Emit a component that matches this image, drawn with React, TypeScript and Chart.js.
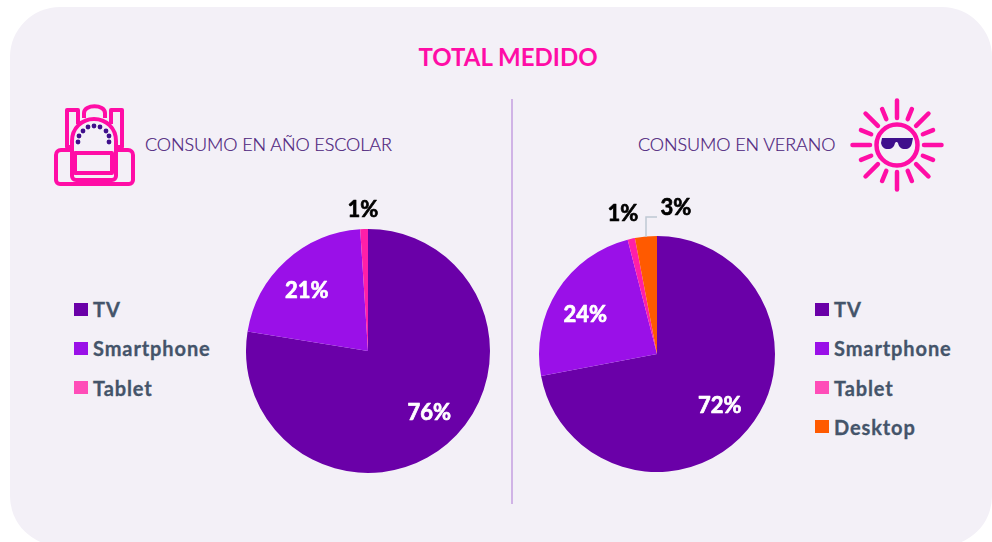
import React, { useEffect, useRef } from "react";
import { Chart, registerables } from "chart.js";

Chart.register(...registerables);

const title = "TOTAL MEDIDO";
const schoolHeading = "CONSUMO EN AÑO ESCOLAR";
const summerHeading = "CONSUMO EN VERANO";
const schoolCategories = ["TV", "Smartphone", "Tablet"];
const schoolValues = [76, 21, 1];
const summerCategories = ["TV", "Smartphone", "Tablet", "Desktop"];
const summerValues = [72, 24, 1, 3];
const sliceColors = ["#6A00A8", "#9A10E8", "#FF1FA8", "#FF5A00"];
const legendColors = ["#6A00A8", "#9A10E8", "#FF4DB8", "#FF5A00"];

type LabelPlace = { r?: number; dx?: number; dy?: number; color: string };

const labelPlugin = {
  id: "sliceLabels",
  afterDatasetsDraw(chart: any, _a: any, opts: any) {
    const { ctx } = chart;
    const arcs = chart.getDatasetMeta(0).data;
    const values = chart.data.datasets[0].data;
    const places: LabelPlace[] = opts.places;
    ctx.save();
    if (opts.leader) {
      const a = arcs[opts.leader.index];
      const mx = a.x + opts.leader.x0;
      ctx.strokeStyle = "#BFC7D4";
      ctx.lineWidth = 1.5;
      ctx.beginPath();
      ctx.moveTo(mx, a.y + opts.leader.y0);
      ctx.lineTo(mx, a.y + opts.leader.y1);
      ctx.lineTo(a.x + opts.leader.x1, a.y + opts.leader.y1);
      ctx.stroke();
    }
    ctx.font = "bold 22px Lato";
    ctx.textAlign = "center";
    ctx.textBaseline = "middle";
    ctx.lineJoin = "round";
    ctx.lineWidth = 0.7;
    arcs.forEach((arc: any, i: number) => {
      const p = places[i];
      const mid = (arc.startAngle + arc.endAngle) / 2;
      const rr = (p.r ?? 0) * arc.outerRadius;
      const x = arc.x + Math.cos(mid) * rr + (p.dx ?? 0);
      const y = arc.y + Math.sin(mid) * rr + (p.dy ?? 0);
      const text = `${values[i]}%`;
      ctx.fillStyle = p.color;
      ctx.strokeStyle = p.color;
      ctx.fillText(text, x, y);
      ctx.strokeText(text, x, y);
    });
    ctx.restore();
  },
};

function Pie(props: {
  labels: string[];
  values: number[];
  box: { left: number; top: number; width: number; height: number };
  padding: { left: number; right: number; top: number; bottom: number };
  places: LabelPlace[];
  leader?: any;
}) {
  const ref = useRef<HTMLCanvasElement>(null);
  useEffect(() => {
    const chart = new Chart(ref.current!, {
      type: "pie",
      data: {
        labels: props.labels,
        datasets: [
          {
            data: props.values,
            backgroundColor: sliceColors.slice(0, props.values.length),
            borderWidth: 0,
          },
        ],
      },
      options: {
        responsive: false,
        animation: false,
        layout: { padding: props.padding },
        plugins: {
          legend: { display: false },
          tooltip: { enabled: false },
          sliceLabels: { places: props.places, leader: props.leader },
        } as any,
      },
      plugins: [labelPlugin],
    });
    return () => chart.destroy();
  }, []);
  return (
    <canvas
      ref={ref}
      width={props.box.width}
      height={props.box.height}
      style={{ position: "absolute", left: props.box.left, top: props.box.top }}
    />
  );
}

function Legend(props: { items: string[]; left: number; top: number }) {
  return (
    <div style={{ position: "absolute", left: props.left, top: props.top }}>
      {props.items.map((t, i) => (
        <div
          key={t}
          style={{
            position: "absolute",
            top: i * 39.3,
            left: 0,
            height: 24,
            whiteSpace: "nowrap",
            display: "flex",
            alignItems: "center",
            font: "bold 20px Lato",
            letterSpacing: 0.9,
            color: "#44546A",
            WebkitTextStroke: "0.3px #44546A",
          }}
        >
          <span
            style={{
              display: "inline-block",
              width: 14,
              height: 13,
              background: legendColors[i],
              marginRight: 5,
            }}
          />
          {t}
        </div>
      ))}
    </div>
  );
}

const PINK = "#FF0DA6";
const INK = "#3F0F8C";

function Backpack() {
  const dots: number[][] = [
    [78, 142], [79, 136], [83, 131], [88, 127], [94, 126], [100, 127], [106, 131], [109, 136], [109, 142],
  ];
  return (
    <svg width={100} height={100} viewBox="50 100 100 100" style={{ position: "absolute", left: 50, top: 100 }}>
      <g fill="none" stroke={PINK} strokeWidth={4} strokeLinejoin="round">
        <path d="M72 176V141c0-13 10-22 22-22s22 9 22 22v35a4 4 0 0 1-4 4H76a4 4 0 0 1-4-4z" />
        <path d="M72 147H67V110H78V124" />
        <path d="M116 147H122V110H111V124" />
        <path d="M84 118V113c0-9 21-9 21 0V118" />
        <rect x={75} y={153} width={37} height={20} />
        <path d="M72 150H61a5 5 0 0 0-5 5V180a4 4 0 0 0 4 4H129a4 4 0 0 0 4-4V155a5 5 0 0 0-5-5H116" />
      </g>
      <g fill={INK}>
        {dots.map(([x, y], i) => (
          <circle key={i} cx={x} cy={y} r={2.4} />
        ))}
      </g>
    </svg>
  );
}

function Sun() {
  const cx = 897;
  const cy = 145;
  const rays = Array.from({ length: 16 }, (_, i) => (i * Math.PI) / 8);
  return (
    <svg width={110} height={110} viewBox={`${cx - 55} ${cy - 55} 110 110`} style={{ position: "absolute", left: cx - 55, top: cy - 55 }}>
      <circle cx={cx} cy={cy} r={20.5} fill="none" stroke={PINK} strokeWidth={4.5} />
      <g stroke={PINK} strokeWidth={4.5} strokeLinecap="round">
        {rays.map((a, i) => {
          const long = i % 2 === 0;
          const r0 = long ? 27 : 28;
          const r1 = long ? 44.5 : 39;
          return (
            <line
              key={i}
              x1={cx + Math.cos(a) * r0}
              y1={cy + Math.sin(a) * r0}
              x2={cx + Math.cos(a) * r1}
              y2={cy + Math.sin(a) * r1}
            />
          );
        })}
      </g>
      <path
        d="M882 138h31l-1 5c-1 4-3 6-7 6s-6-2-7-6l-1-1h-1l-1 1c-1 4-3 6-7 6s-6-2-7-6z"
        fill={INK}
      />
    </svg>
  );
}

const headingStyle: React.CSSProperties = {
  position: "absolute",
  whiteSpace: "nowrap",
  font: "300 18px Lato",
  letterSpacing: -0.1,
  color: "#4A1A7A",
  WebkitTextStroke: "0.2px #4A1A7A",
};

export default function App() {
  useEffect(() => {
    document.body.style.margin = "0";
    document.body.style.background = "#FFFFFF";
  }, []);
  return (
    <div style={{ position: "relative", width: 992, height: 542, overflow: "hidden", background: "#fff" }}>
      <div
        style={{
          position: "absolute",
          left: 10,
          top: 7,
          width: 982,
          height: 539,
          borderRadius: 50,
          background: "#F3F0F7",
        }}
      />
      <div
        style={{
          position: "absolute",
          left: 0,
          width: 1016,
          textAlign: "center",
          top: 42,
          font: "bold 24px Lato",
          color: PINK,
        }}
      >
        {title}
      </div>
      <div style={{ position: "absolute", left: 511, top: 99, width: 2, height: 405, background: "#D0B3E6" }} />
      <div style={{ ...headingStyle, left: 145, top: 133 }}>{schoolHeading}</div>
      <div style={{ ...headingStyle, left: 638, top: 133 }}>{summerHeading}</div>
      <Backpack />
      <Sun />
      <Legend items={schoolCategories} left={74} top={297} />
      <Legend items={summerCategories} left={815} top={297} />
      <Pie
        labels={schoolCategories}
        values={schoolValues}
        box={{ left: 230, top: 190, width: 280, height: 300 }}
        padding={{ left: 16, right: 20, top: 39, bottom: 17 }}
        places={[
          { r: 0.71, dx: 5, dy: -4, color: "#FFFFFF" },
          { r: 0.71, dx: -3, dy: 4, color: "#FFFFFF" },
          { dx: -5, dy: -141, color: "#000000" },
        ]}
      />
      <Pie
        labels={summerCategories}
        values={summerValues}
        box={{ left: 520, top: 190, width: 280, height: 300 }}
        padding={{ left: 19, right: 25, top: 46, bottom: 18 }}
        places={[
          { r: 0.68, dx: 1, dy: 1, color: "#FFFFFF" },
          { r: 0.7, dx: -2, dy: 5, color: "#FFFFFF" },
          { dx: -34, dy: -140, color: "#000000" },
          { dx: 19, dy: -146, color: "#000000" },
        ]}
        leader={{ index: 3, x0: -11, y0: -117, y1: -137, x1: 0 }}
      />
    </div>
  );
}
